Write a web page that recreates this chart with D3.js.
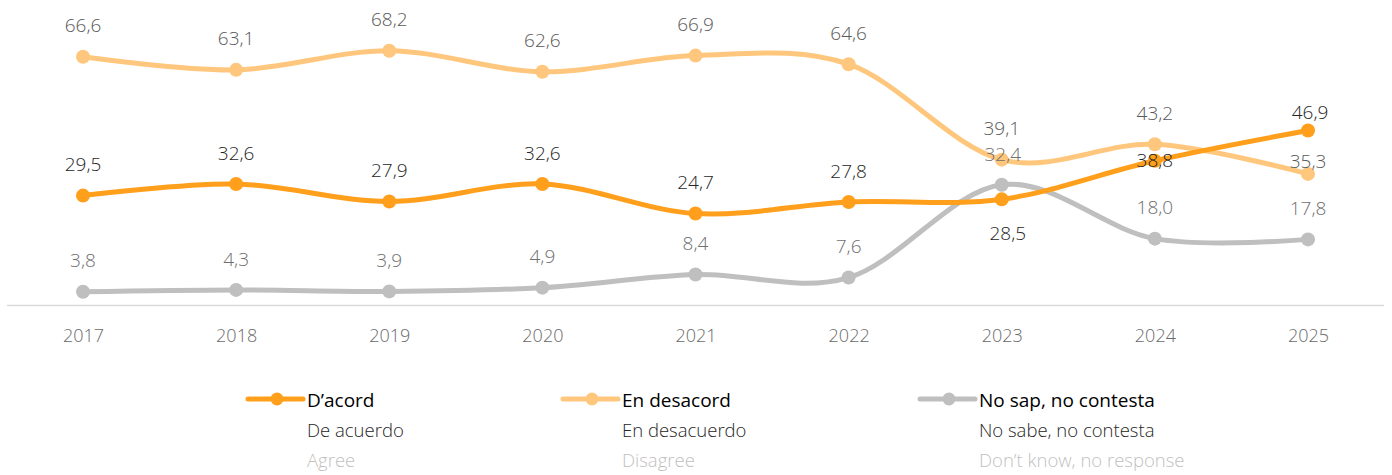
<!DOCTYPE html>
<html>
<head>
<meta charset="utf-8">
<script src="https://cdn.jsdelivr.net/npm/d3@7"></script>
<style>
  body { margin: 0; background: #fff; }
  svg text { font-family: "Open Sans", "Segoe UI", sans-serif; font-weight: 300; }
</style>
</head>
<body>
<svg id="chart"></svg>
<script>
const width = 1392;
const height = 475;

const years = ["2017", "2018", "2019", "2020", "2021", "2022", "2023", "2024", "2025"];
const acord = [29.5, 32.6, 27.9, 32.6, 24.7, 27.8, 28.5, 38.8, 46.9];
const desacord = [66.6, 63.1, 68.2, 62.6, 66.9, 64.6, 39.1, 43.2, 35.3];
const nsnc = [3.8, 4.3, 3.9, 4.9, 8.4, 7.6, 32.4, 18.0, 17.8];

const seriesNames = ["D’acord", "En desacord", "No sap, no contesta"];
const seriesEs = ["De acuerdo", "En desacuerdo", "No sabe, no contesta"];
const seriesEn = ["Agree", "Disagree", "Don’t know, no response"];

const colors = ["#ff9f1c", "#ffc77d", "#bfbfbf"];
const labelColors = ["#262626", "#595959", "#6f6f6f"];

// label offsets (dx, dy of label centre relative to point) for the crowded ones
const labelShift = {
  "0-6": [6, 34], "0-7": [0, 0], "0-8": [2, -18],
  "2-6": [1, -30], "1-8": [0, -13]
};

const svg = d3.select("#chart")
  .attr("width", width)
  .attr("height", height);

const x = d3.scalePoint()
  .domain(years)
  .range([83, 1308]);

const y = d3.scaleLinear()
  .domain([0, 70])
  .range([306, 44]);

// axis baseline
svg.append("line")
  .attr("x1", 7).attr("x2", 1384)
  .attr("y1", y(0) - 0.5).attr("y2", y(0) - 0.5)
  .attr("stroke", "#d9d9d9")
  .attr("stroke-width", 1.5);

const xAxis = svg.append("g")
  .attr("transform", `translate(0, ${y(0)})`)
  .call(d3.axisBottom(x).tickSize(0).tickPadding(23));
xAxis.select(".domain").remove();
xAxis.selectAll("text")
  .attr("font-size", 18)
  .attr("fill", "#6a6a6a")
  .style("font-family", "'Open Sans', sans-serif");

const line = d3.line()
  .x((d, i) => x(years[i]))
  .y(d => y(d))
  .curve(d3.curveCatmullRom.alpha(0));

const allSeries = [acord, desacord, nsnc];
const drawOrder = [2, 1, 0];

drawOrder.forEach(s => {
  const vals = allSeries[s];
  svg.append("path")
    .datum(vals)
    .attr("fill", "none")
    .attr("stroke", colors[s])
    .attr("stroke-width", 5)
    .attr("stroke-linecap", "round")
    .attr("d", line);

  svg.selectAll(".dot" + s)
    .data(vals)
    .enter()
    .append("circle")
    .attr("cx", (d, i) => x(years[i]))
    .attr("cy", d => y(d))
    .attr("r", 7)
    .attr("fill", colors[s]);
});

const fmt = v => d3.format(".1f")(v).replace(".", ",");

[1, 2, 0].forEach(s => {
  svg.selectAll(".lab" + s)
    .data(allSeries[s])
    .enter()
    .append("text")
    .attr("x", (d, i) => x(years[i]) + (labelShift[s + "-" + i] || [0, -31])[0])
    .attr("y", (d, i) => y(d) + (labelShift[s + "-" + i] || [0, -31])[1])
    .attr("dy", "0.35em")
    .attr("text-anchor", "middle")
    .attr("font-size", 19)
    .attr("fill", labelColors[s])
    .text(d => fmt(d));
});

// legend
const legendX = [248, 563, 920];
seriesNames.forEach((name, s) => {
  const g = svg.append("g").attr("transform", `translate(${legendX[s]}, 0)`);
  g.append("line")
    .attr("x1", 0).attr("x2", 55)
    .attr("y1", 399).attr("y2", 399)
    .attr("stroke", colors[s])
    .attr("stroke-width", 5)
    .attr("stroke-linecap", "round");
  g.append("circle")
    .attr("cx", 29).attr("cy", 399).attr("r", 6.5)
    .attr("fill", colors[s]);
  g.append("text")
    .attr("x", 59).attr("y", 407)
    .attr("font-size", 19)
    .attr("fill", "#000")
    .style("font-weight", 400)
    .text(name);
  g.append("text")
    .attr("x", 59).attr("y", 437)
    .attr("font-size", 18.5)
    .attr("fill", "#262626")
    .text(seriesEs[s]);
  g.append("text")
    .attr("x", 59).attr("y", 467)
    .attr("font-size", 18.5)
    .attr("fill", "#bfbfbf")
    .text(seriesEn[s]);
});
</script>
</body>
</html>
